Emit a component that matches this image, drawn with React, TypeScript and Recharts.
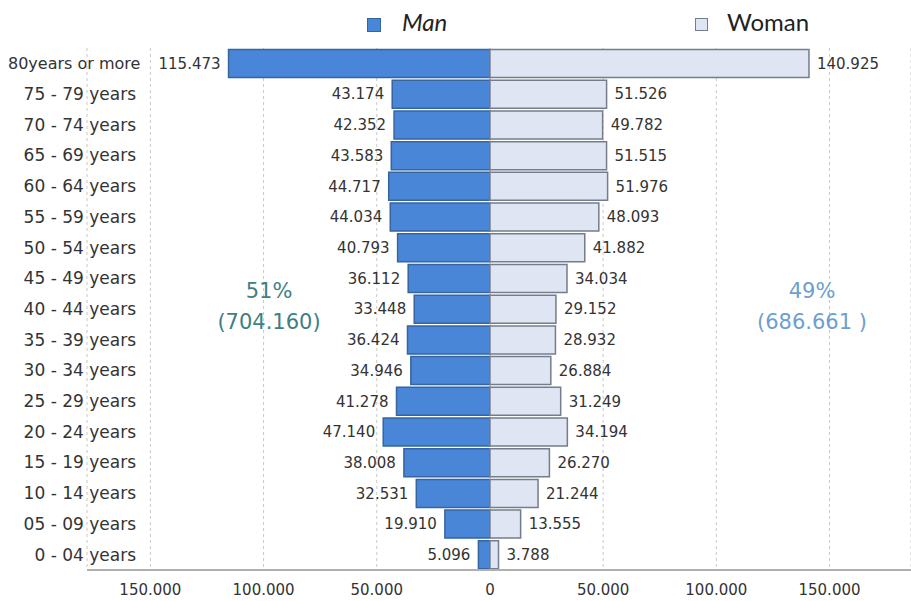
import { Bar, BarChart, CartesianGrid, LabelList, XAxis, YAxis } from 'recharts'

const ageGroups = [
  '80years or more',
  '75 - 79 years',
  '70 - 74 years',
  '65 - 69 years',
  '60 - 64 years',
  '55 - 59 years',
  '50 - 54 years',
  '45 - 49 years',
  '40 - 44 years',
  '35 - 39 years',
  '30 - 34 years',
  '25 - 29 years',
  '20 - 24 years',
  '15 - 19 years',
  '10 - 14 years',
  '05 - 09 years',
  '0 - 04 years',
]

const manValues = [
  115473, 43174, 42352, 43583, 44717, 44034, 40793, 36112, 33448, 36424, 34946, 41278, 47140, 38008, 32531, 19910, 5096,
]
const womanValues = [
  140925, 51526, 49782, 51515, 51976, 48093, 41882, 34034, 29152, 28932, 26884, 31249, 34194, 26270, 21244, 13555, 3788,
]

const xTicks = [-150000, -100000, -50000, 0, 50000, 100000, 150000]

const MAN_FILL = '#4a86d8'
const MAN_STROKE = '#35649f'
const WOMAN_FILL = '#dfe5f2'
const WOMAN_STROKE = '#747d8c'

// 43174 -> "43.174"
const fmt = (v: number) => (v === 0 ? '0' : (Math.abs(v) / 1000).toFixed(3))

const chartData = ageGroups.map((age, i) => ({ age, man: -manValues[i], woman: womanValues[i] }))

function ValueLabel(props: any) {
  const { x, y, width, height, value, side } = props
  const left = Math.min(x, x + width)
  const right = Math.max(x, x + width)
  const tx = side === 'left' ? left - 8 : right + 8
  return (
    <text
      x={tx}
      y={y + height / 2}
      dy="0.35em"
      textAnchor={side === 'left' ? 'end' : 'start'}
      fontSize={15}
      fontFamily="DejaVu Sans"
      fill="#333"
    >
      {fmt(Number(value))}
    </text>
  )
}

function AgeTick(props: any) {
  const { x, y, payload } = props
  // the long top label starts near the left edge and runs into the plot, like the original
  const long = String(payload.value).length > 14
  return (
    <text
      x={long ? 8 : x + 57}
      y={y}
      dy="0.35em"
      textAnchor={long ? 'start' : 'end'}
      fontSize={long ? 16 : 17}
      fontFamily="DejaVu Sans"
      fill="#333"
    >
      {payload.value}
    </text>
  )
}

export default function App() {
  return (
    <div style={{ position: 'absolute', left: 0, top: 0, width: 911, height: 601, background: '#fff', fontFamily: 'DejaVu Sans' }}>
      <BarChart
        width={911}
        height={601}
        data={chartData}
        layout="vertical"
        stackOffset="sign"
        barCategoryGap="5%"
        margin={{ top: 48, right: 0, bottom: 0, left: 0 }}
      >
        <CartesianGrid horizontal={false} strokeDasharray="3 3" stroke="#c8c8c8" />
        <XAxis
          type="number"
          domain={[-178000, 186000]}
          ticks={xTicks}
          allowDataOverflow
          tickFormatter={fmt}
          height={31}
          tickLine={false}
          tickMargin={8}
          axisLine={{ stroke: '#b0b0b0', strokeWidth: 2 }}
          tick={{ fontSize: 15, fill: '#333', fontFamily: 'DejaVu Sans' }}
        />
        <YAxis type="category" dataKey="age" width={87} axisLine={false} tickLine={false} tick={<AgeTick />} />
        <Bar dataKey="man" stackId="pop" fill={MAN_FILL} stroke={MAN_STROKE} strokeWidth={1.5} isAnimationActive={false}>
          <LabelList dataKey="man" content={(p: any) => <ValueLabel {...p} side="left" />} />
        </Bar>
        <Bar dataKey="woman" stackId="pop" fill={WOMAN_FILL} stroke={WOMAN_STROKE} strokeWidth={1.5} isAnimationActive={false}>
          <LabelList dataKey="woman" content={(p: any) => <ValueLabel {...p} side="right" />} />
        </Bar>
      </BarChart>

      {/* legend */}
      <div style={{ position: 'absolute', left: 367, top: 18, width: 14, height: 14, background: MAN_FILL, border: `1px solid ${MAN_STROKE}`, boxSizing: 'border-box' }} />
      <div style={{ position: 'absolute', left: 402, top: 7, fontSize: 24, fontFamily: 'Lato', fontStyle: 'italic', color: '#222', lineHeight: '30px' }}>Man</div>
      <div style={{ position: 'absolute', left: 695, top: 18, width: 13, height: 13, background: WOMAN_FILL, border: `1px solid ${WOMAN_STROKE}`, boxSizing: 'border-box' }} />
      <div style={{ position: 'absolute', left: 727, top: 7, fontSize: 24, fontFamily: 'Lato', color: '#222', lineHeight: '30px' }}>Woman</div>

      {/* totals */}
      <div style={{ position: 'absolute', left: 199, top: 276, width: 140, textAlign: 'center', fontSize: 21, lineHeight: '31px', color: '#3f7f84' }}>
        51%
        <br />
        (704.160)
      </div>
      <div style={{ position: 'absolute', left: 742, top: 276, width: 140, textAlign: 'center', fontSize: 21, lineHeight: '31px', color: '#6d9fcf' }}>
        49%
        <br />
        (686.661 )
      </div>
    </div>
  )
}
